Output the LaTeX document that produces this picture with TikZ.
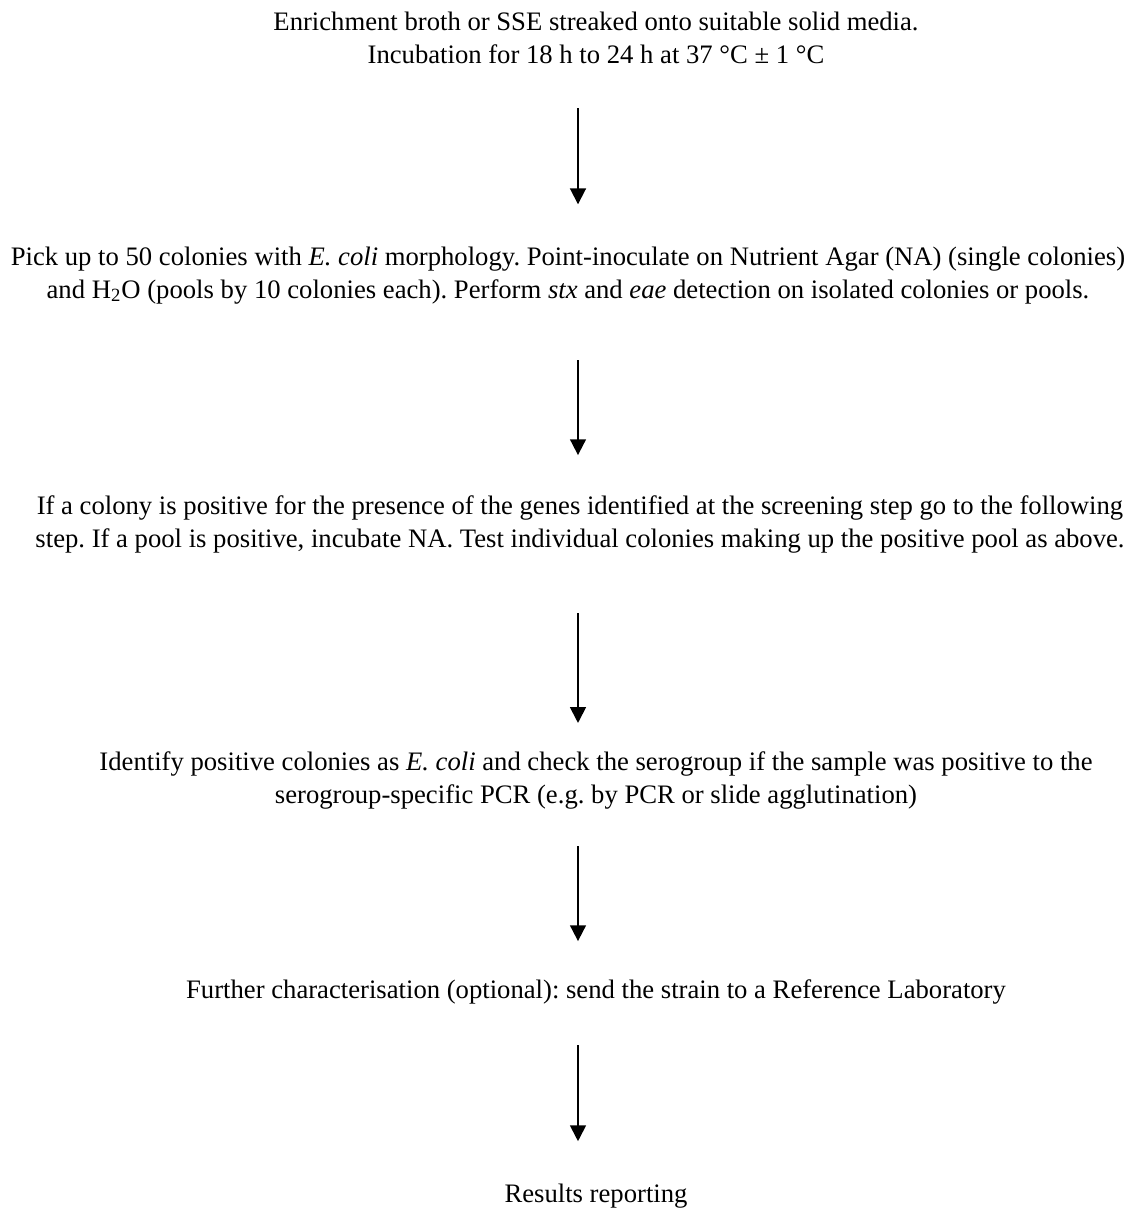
\documentclass[tikz,border=0pt]{standalone}
\usepackage{fontspec}
\setmainfont{Liberation Serif}
\usetikzlibrary{arrows.meta}
\frenchspacing

\tikzstyle{stage} = [align=center, inner sep=0pt, anchor=base, font=\fontsize{12.8}{15.6}\selectfont]
\tikzstyle{arrow} = [line width=0.9pt,-{Triangle[width=7.6pt,length=7.6pt]}]

\begin{document}
\begin{tikzpicture}[x=0.48pt, y=-0.48pt]
\useasboundingbox (0,0) rectangle (1134,1208);
\coordinate (axis) at (578,0);

% base = baseline of the last line
\node (enrich) [stage] at (596,63) {Enrichment broth or SSE streaked onto suitable solid media.\\Incubation for 18 h to 24 h at 37 °C ± 1 °C};
\node (pick) [stage] at (568,298) {Pick up to 50 colonies with \textit{E. coli} morphology. Point-inoculate on Nutrient Agar (NA) (single colonies)\\and H\textsubscript{2}O (pools by 10 colonies each). Perform \textit{stx} and \textit{eae} detection on isolated colonies or pools.};
\node (confirm) [stage] at (580,547) {If a colony is positive for the presence of the genes identified at the screening step go to the following\\step. If a pool is positive, incubate NA. Test individual colonies making up the positive pool as above.};
\node (identify) [stage] at (596,803) {Identify positive colonies as \textit{E. coli} and check the serogroup if the sample was positive to the\\serogroup-specific PCR (e.g. by PCR or slide agglutination)};
\node (further) [stage] at (596,998) {Further characterisation (optional): send the strain to a Reference Laboratory};
\node (results) [stage] at (596,1202) {Results reporting};

\draw [arrow, shorten <=21.4pt, shorten >=20.3pt] (enrich.south -| axis) -- (pick.north -| axis);
\draw [arrow, shorten <=27.0pt, shorten >=19.3pt] (pick.south -| axis) -- (confirm.north -| axis);
\draw [arrow, shorten <=28.9pt, shorten >=13.6pt] (confirm.south -| axis) -- (identify.north -| axis);
\draw [arrow, shorten <=17.9pt, shorten >=18.1pt] (identify.south -| axis) -- (further.north -| axis);
\draw [arrow, shorten <=19.8pt, shorten >=20.1pt] (further.south -| axis) -- (results.north -| axis);
\end{tikzpicture}
\end{document}
